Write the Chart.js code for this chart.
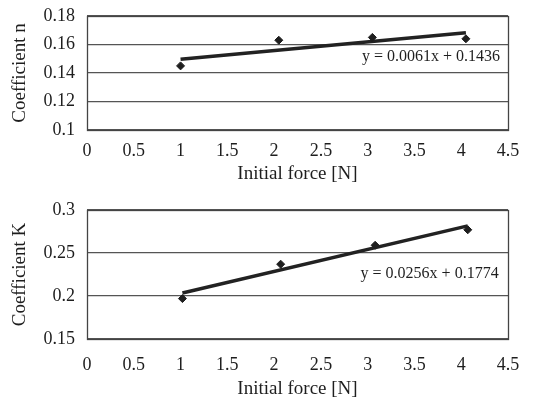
<!DOCTYPE html>
<html>
<head>
<meta charset="utf-8">
<script src="https://cdn.jsdelivr.net/npm/chart.js@4"></script>
<style>
  body { margin: 0; background: #fff; }
  .box { position: relative; width: 541px; }
</style>
</head>
<body>
<div class="box" style="height:195px"><canvas id="chartN"></canvas></div>
<div class="box" style="height:206px"><canvas id="chartK"></canvas></div>
<script>
// Data
const forceN = [1.0, 2.05, 3.05, 4.05];
const coefN = [0.145, 0.163, 0.165, 0.164];
const forceK = [1.02, 2.07, 3.08, 4.07];
const coefK = [0.197, 0.237, 0.259, 0.277];

// Trend lines (as printed on the chart)
const slopeN = 0.0061, interceptN = 0.1436;
const slopeK = 0.0256, interceptK = 0.1774;
const eqN = 'y = 0.0061x + 0.1436';
const eqK = 'y = 0.0256x + 0.1774';

const xTicks = [0, 0.5, 1, 1.5, 2, 2.5, 3, 3.5, 4, 4.5];

const ink = '#1e1e1e';
const serif = "'Liberation Serif', 'DejaVu Serif', serif";

function trend(xs, a, b) {
    return [xs[0], xs[xs.length - 1]].map(x => ({ x: x, y: a * x + b }));
}

// frame around the plot area + equation label
const framePlugin = {
    id: 'frame',
    afterDraw(chart, args, opts) {
        const ctx = chart.ctx;
        const a = chart.chartArea;
        ctx.save();
        ctx.strokeStyle = '#444';
        ctx.lineWidth = 1.3;
        ctx.strokeRect(a.left + 0.5, a.top + 0.5, a.right - a.left, a.bottom - a.top);
        ctx.fillStyle = ink;
        ctx.font = '16px ' + serif;
        ctx.textAlign = 'right';
        ctx.textBaseline = 'middle';
        const px = chart.scales.x.getPixelForValue(opts.x);
        const py = chart.scales.y.getPixelForValue(opts.y);
        ctx.fillText(opts.text, px, py);
        ctx.restore();
    }
};

function makeChart(id, xs, ys, a, b, yMin, yMax, yStep, yTitle, lay, eq, eqPos) {
    return new Chart(document.getElementById(id), {
        type: 'scatter',
        data: {
            datasets: [{
                data: xs.map((x, i) => ({ x: x, y: ys[i] })),
                pointStyle: 'rectRot',
                pointRadius: 4,
                backgroundColor: ink,
                borderColor: ink,
                showLine: false
            }, {
                data: trend(xs, a, b),
                showLine: true,
                borderColor: '#222',
                borderWidth: 3.5,
                pointRadius: 0
            }]
        },
        options: {
            responsive: true,
            maintainAspectRatio: false,
            animation: false,
            layout: { padding: { top: lay.top, right: 33, left: 0, bottom: 0 } },
            plugins: {
                legend: { display: false },
                tooltip: { enabled: false },
                frame: { text: eq, x: eqPos[0], y: eqPos[1] }
            },
            scales: {
                x: {
                    type: 'linear',
                    min: 0, max: 4.5,
                    afterBuildTicks: s => { s.ticks = xTicks.map(v => ({ value: v })); },
                    afterFit: s => { s.height = lay.xh; s.paddingLeft = 0; s.paddingRight = 0; },
                    grid: { display: false },
                    border: { display: false },
                    ticks: {
                        color: ink,
                        font: { family: serif, size: 18 },
                        padding: lay.tickPad,
                        maxRotation: 0,
                        callback: v => String(+(+v).toFixed(2))
                    },
                    title: {
                        display: true,
                        text: 'Initial force [N]',
                        color: ink,
                        font: { family: serif, size: 19 },
                        padding: lay.titlePad
                    }
                },
                y: {
                    min: yMin, max: yMax,
                    ticks: {
                        stepSize: yStep,
                        color: ink,
                        font: { family: serif, size: 18 },
                        padding: 12,
                        callback: v => String(+(+v).toFixed(3))
                    },
                    afterFit: s => { s.width = 87; s.paddingTop = 0; s.paddingBottom = 0; },
                    grid: { color: '#555', lineWidth: 1.3, drawTicks: false },
                    border: { display: false },
                    title: {
                        display: true,
                        text: yTitle,
                        color: ink,
                        font: { family: serif, size: 19 },
                        padding: 9
                    }
                }
            }
        },
        plugins: [framePlugin]
    });
}

makeChart('chartN', forceN, coefN, slopeN, interceptN, 0.1, 0.18, 0.02, 'Coefficient n',
    { top: 16, xh: 65, tickPad: 2, titlePad: 10 }, eqN, [4.415, 0.1513]);
makeChart('chartK', forceK, coefK, slopeK, interceptK, 0.15, 0.3, 0.05, 'Coefficient K',
    { top: 15, xh: 62, tickPad: 7, titlePad: 1 }, eqK, [4.40, 0.2256]);
</script>
</body>
</html>
